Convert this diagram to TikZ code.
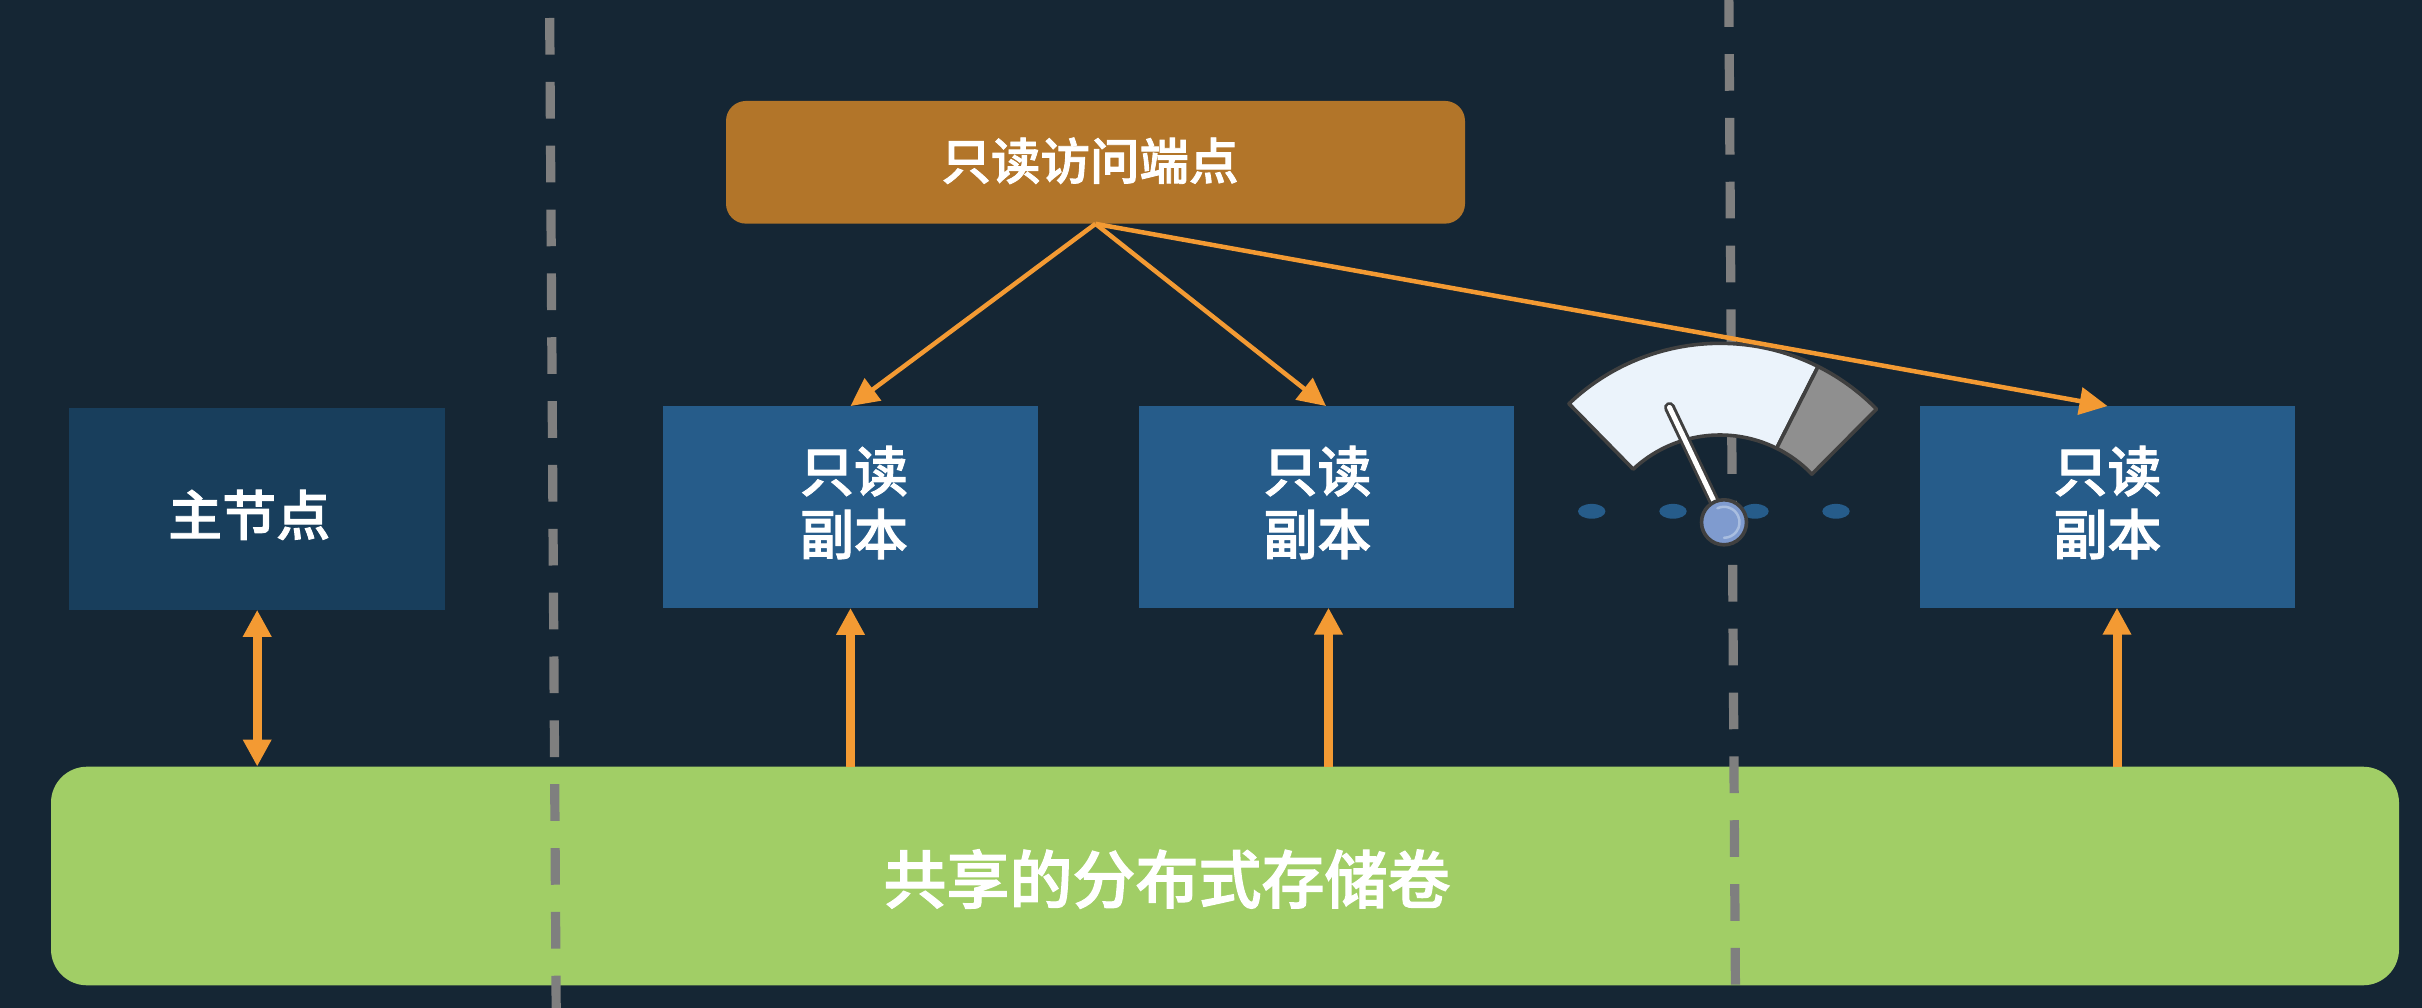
\documentclass[tikz,border=0pt]{standalone}
\usepackage{fontspec}
\setmainfont{Noto Sans CJK SC Medium}[FakeBold=1.8]
\usetikzlibrary{arrows.meta,shapes.geometric}
\definecolor{pagebg}{HTML}{152634}
\definecolor{primaryfill}{HTML}{183E5C}
\definecolor{replicafill}{HTML}{265C8A}
\definecolor{endpointfill}{HTML}{B27529}
\definecolor{storagefill}{HTML}{A1CE66}
\definecolor{linkorange}{HTML}{F39A33}
\definecolor{zonegray}{HTML}{7F7F7F}
\definecolor{gaugeedge}{HTML}{404040}
\definecolor{gaugepale}{HTML}{EBF3FB}
\definecolor{gaugegray}{HTML}{8F8F8F}
\definecolor{hubblue}{HTML}{7F9BCF}
\definecolor{hubshine}{HTML}{A9BEE0}
\tikzset{
  boxbase/.style={rectangle,inner sep=0pt},
  caption/.style={text=white,align=center,font=\fontsize{54}{63}\selectfont},
  primarybox/.style={boxbase,fill=primaryfill,minimum width=375.5pt,minimum height=201.5pt},
  replicabox/.style={boxbase,fill=replicafill,minimum width=375pt,minimum height=201.5pt},
  endpointbox/.style={boxbase,fill=endpointfill,rounded corners=20pt,minimum width=739pt,minimum height=122.7pt},
  storagebox/.style={boxbase,fill=storagefill,rounded corners=36pt,minimum width=2348pt,minimum height=218.6pt},
  zoneline/.style={draw=zonegray,line width=9.2pt,dash pattern=on 36.7pt off 27.15pt},
  thinlink/.style={draw=linkorange,line width=4.5pt,-{Triangle[length=28pt,width=27pt]}},
  uplink/.style={draw=linkorange,line width=9pt,-{Triangle[length=27pt,width=27pt]}},
  duallink/.style={draw=linkorange,line width=9pt,{Triangle[length=27pt,width=27pt]}-{Triangle[length=27pt,width=27pt]}},
  gaugeoutline/.style={draw=gaugeedge,line width=3.6pt,line join=round},
  tickdot/.style={ellipse,fill=replicafill,minimum width=27.4pt,minimum height=14.8pt,inner sep=0pt},
  hubknob/.style={circle,fill=hubblue,draw=gaugeedge,line width=3.6pt,minimum size=45pt,inner sep=0pt},
}
\begin{document}
\begin{tikzpicture}[x=1pt,y=-1pt]
  \useasboundingbox[fill=pagebg] (0,0) rectangle (2422,1008);

  % Shared storage volume
  \node[storagebox,label={[caption,font=\fontsize{63}{72}\selectfont,xshift=-58pt,yshift=-3pt]center:共享的分布式存储卷}] (store) at (1225,876) {};

  % Availability-zone separators
  \coordinate (zoneAtop) at (549.7,18);
  \coordinate (zoneAend) at (556.2,1012);
  \coordinate (zoneBtop) at (1728.8,-9.8);
  \coordinate (zoneBend) at (1735.6,1012);
  \draw[zoneline] (zoneAtop) -- (zoneAend);
  \draw[zoneline] (zoneBtop) -- (zoneBend);

  % Compute nodes
  \node[primarybox,label={[caption,xshift=-8pt,yshift=-6pt]center:主节点}] (primary) at (257.2,508.9) {};
  \node[replicabox,label={[caption,xshift=3.5pt,yshift=4.5pt]center:只读\\副本}] (replicaA) at (850.5,507) {};
  \node[replicabox,label={[caption,xshift=-8.5pt,yshift=4.5pt]center:只读\\副本}] (replicaB) at (1326,507) {};
  \node[replicabox,label={[caption,yshift=4.5pt]center:只读\\副本}] (replicaC) at (2107.5,507) {};
  \node[endpointbox,label={[caption,font=\fontsize{49.5}{58}\selectfont,xshift=-5.5pt,yshift=1.5pt]center:只读访问端点}] (endpoint) at (1095.5,162.3) {};

  % Storage links
  \draw[duallink] (primary.south) -- (primary.south |- store.north);
  \coordinate (feedB) at (1328.5,607.7);
  \coordinate (feedC) at (2117,607.7);
  \draw[uplink] (replicaA.south |- store.north) -- (replicaA.south);
  \draw[uplink] (feedB |- store.north) -- (feedB);
  \draw[uplink] (feedC |- store.north) -- (feedC);

  % Lag gauge: scale arc, needle and hub
  \node[tickdot] (tickA) at (1591.7,511.3) {};
  \node[tickdot] (tickB) at (1673,511.3) {};
  \node[tickdot] (tickC) at (1755,511.3) {};
  \node[tickdot] (tickD) at (1836,511.3) {};
  \begin{scope}[shift={(1720,562.3)}]
    \filldraw[gaugeoutline,fill=gaugepale]
      (133.6:219pt) arc[start angle=133.6,end angle=63.4,radius=219pt]
      -- (63.6:127.3pt) arc[start angle=63.6,end angle=133,radius=127.3pt] -- cycle;
    \filldraw[gaugeoutline,fill=gaugegray]
      (63.4:219pt) arc[start angle=63.4,end angle=44.4,radius=219pt]
      -- (43.8:127.3pt) arc[start angle=43.8,end angle=63.6,radius=127.3pt] -- cycle;
  \end{scope}
  \coordinate (needletip) at (1669.5,407.5);
  \draw[gaugeedge,line width=11pt,line cap=round] (needletip) -- (1724,522.3);
  \draw[white,line width=5pt,line cap=round] (needletip) -- (1724,522.3);
  \node[hubknob] (hub) at (1724,522.3) {};
  \draw[hubshine,line width=2.5pt,line cap=round]
    ([shift={(115:15.5pt)}]hub.center) arc[start angle=115,end angle=-90,radius=15.5pt];

  % Reader endpoint links
  \draw[thinlink] (endpoint.south) -- (replicaA.north);
  \draw[thinlink] (endpoint.south) -- (replicaB.north);
  \draw[thinlink] (endpoint.south) -- (replicaC.north);
\end{tikzpicture}
\end{document}
